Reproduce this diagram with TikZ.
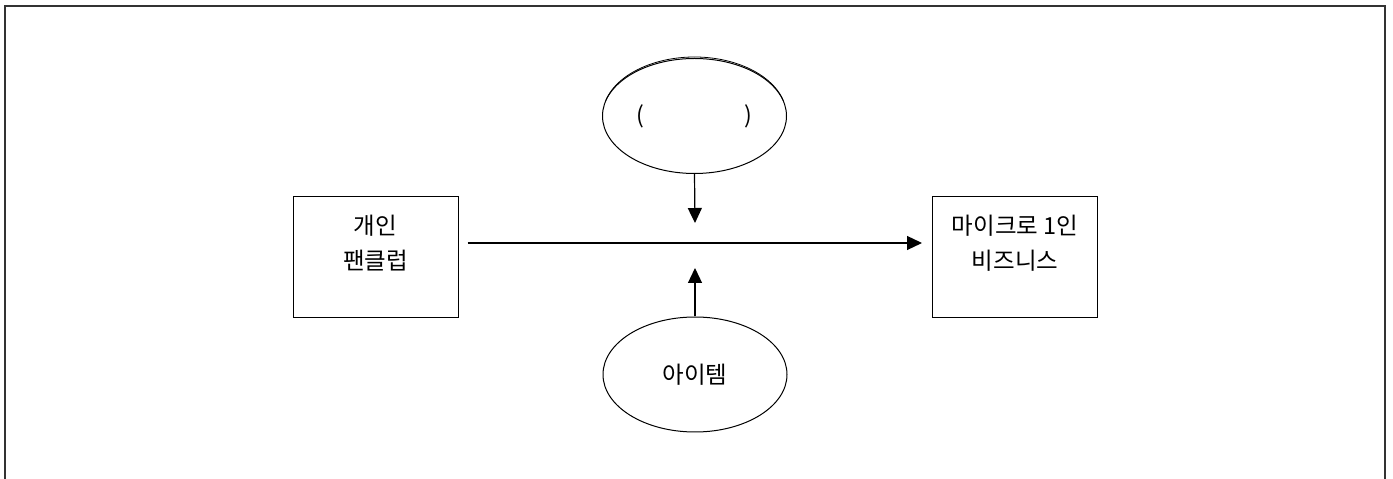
\documentclass[tikz,border=0pt]{standalone}
\usepackage{fontspec}
\newfontfamily\kr{Noto Sans CJK KR}
\usetikzlibrary{arrows.meta,shapes.geometric}

\tikzset{
  box/.style={draw, line width=1pt, minimum width=165pt, minimum height=121pt,
    inner sep=0pt, align=center, text depth=30pt, font=\kr\fontsize{23.5}{35}\selectfont},
  oval/.style={draw, ellipse, line width=1pt, minimum width=184pt, minimum height=115pt,
    inner sep=0pt, font=\kr\fontsize{23.5}{35}\selectfont},
  arr/.style={-{Triangle[length=15pt,width=14pt]}, line width=1.2pt},
}

\begin{document}
\begin{tikzpicture}[x=1pt,y=1pt]
    \useasboundingbox (0,0) rectangle (1393,479);
    % outer frame, open at the bottom
    \draw[line width=2pt, black!80] (5,0) -- (5,473) -- (1385,473) -- (1385,0);

    \node[box] (fan) at (375.5,222) {개인\\팬클럽};
    \node[box] (biz) at (1015,222) {마이크로 1인\\비즈니스};
    \node[oval] (top) at (694.5,363) {\fontsize{23}{26}\selectfont(\hspace{100pt})};
    \node[oval] (item) at (695,104.5) {아이템};
    % second line along the top of the upper oval
    \draw[line width=0.8pt] ([shift={(165:92pt and 59pt)}]top.center)
      arc[start angle=165, end angle=15, x radius=92pt, y radius=59pt];

    \coordinate (dtip) at (695,256);
    \coordinate (utip) at (695,211);

    \draw[arr] ([xshift=9pt,yshift=14pt]fan.east) -- ([xshift=-10pt,yshift=14pt]biz.west);
    \draw[arr] (top.south) -- (dtip);
    \draw[arr] (item.north) -- (utip);
\end{tikzpicture}
\end{document}
